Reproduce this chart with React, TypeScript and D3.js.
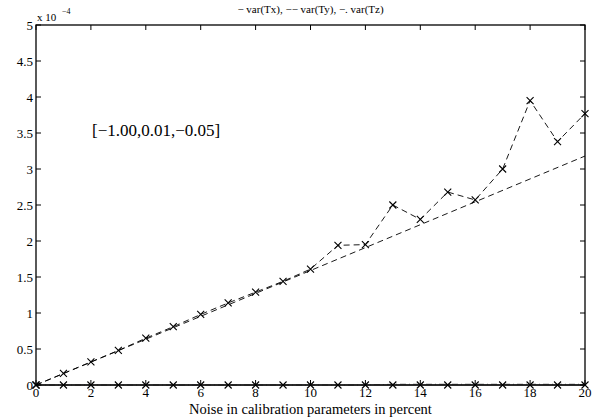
import React from "react";
import * as d3 from "d3";

const xs = [0, 1, 2, 3, 4, 5, 6, 7, 8, 9, 10, 11, 12, 13, 14, 15, 16, 17, 18, 19, 20];
const varTx = [0, 0, 0, 0, 0, 0, 0, 0, 0, 0, 0, 0, 0, 0, 0, 0, 0, 0, 0, 0, 0];
const varTy = [0, 0.16, 0.32, 0.48, 0.65, 0.81, 0.98, 1.14, 1.29, 1.44, 1.61, 1.94, 1.95, 2.5, 2.3, 2.68, 2.57, 3.0, 3.95, 3.38, 3.77].map(v => v * 1e-4);
const varTz = [0, 0, 0, 0, 0, 0, 0, 0, 0, 0, 0, 0, 0, 0.01, 0.01, 0.01, 0.01, 0.01, 0.01, 0.01, 0.01].map(v => v * 1e-4);
const fitX = [0, 20];
const fitY = [0, 3.18e-4];
const xTicks = [0, 2, 4, 6, 8, 10, 12, 14, 16, 18, 20];
const yTicks = [0, 0.5, 1, 1.5, 2, 2.5, 3, 3.5, 4, 4.5, 5];
const title = "\u2212 var(Tx), \u2212\u2212 var(Ty), \u2212. var(Tz)";
const xLabel = "Noise in calibration parameters in percent";
const annotation = "[\u22121.00,0.01,\u22120.05]";

const W = 596, H = 419;
const L = 36, R = 585, T = 25, B = 385;

export default function App() {
  const x = d3.scaleLinear().domain([0, 20]).range([L, R]);
  const y = d3.scaleLinear().domain([0, 5e-4]).range([B, T]);
  const line = d3.line<[number, number]>().x(d => x(d[0])).y(d => y(d[1]));
  const font = "'Liberation Serif', 'Times New Roman', serif";
  const marker = (cx: number, cy: number, k: string) => (
    <path key={k} d={`M${cx - 3.5},${cy - 3.5}L${cx + 3.5},${cy + 3.5}M${cx - 3.5},${cy + 3.5}L${cx + 3.5},${cy - 3.5}`} stroke="#000" strokeWidth={1.1} />
  );
  return (
    <svg width={W} height={H} style={{ position: "absolute", left: 0, top: 0, background: "#fff" }} fontFamily={font}>
      <rect x={0} y={0} width={W} height={H} fill="#fff" />
      <path d={line(xs.map((v, i) => [v, varTx[i]]) as any) || ""} fill="none" stroke="#000" strokeWidth={1} />
      <path d={line(xs.map((v, i) => [v, varTz[i]]) as any) || ""} fill="none" stroke="#555" strokeWidth={1} strokeDasharray="6,3,1,3" />
      <path d={line(fitX.map((v, i) => [v, fitY[i]]) as any) || ""} fill="none" stroke="#000" strokeWidth={0.9} strokeDasharray="6,4" />
      <path d={line(xs.map((v, i) => [v, varTy[i]]) as any) || ""} fill="none" stroke="#000" strokeWidth={0.9} strokeDasharray="6,4" />
      {xs.map((v, i) => marker(x(v), y(varTy[i]), "y" + i))}
      {xs.map((v, i) => marker(x(v), y(varTx[i]), "x" + i))}
      <rect x={L} y={T} width={R - L} height={B - T} fill="none" stroke="#000" strokeWidth={1.3} />
      {xTicks.map(t => (
        <g key={"xt" + t}>
          <line x1={x(t)} x2={x(t)} y1={B} y2={B - 5} stroke="#000" />
          <line x1={x(t)} x2={x(t)} y1={T} y2={T + 5} stroke="#000" />
          <text x={x(t)} y={B + 12} fontSize={13} textAnchor="middle">{t}</text>
        </g>
      ))}
      {yTicks.map(t => (
        <g key={"yt" + t}>
          <line x1={L} x2={L + 5} y1={y(t * 1e-4)} y2={y(t * 1e-4)} stroke="#000" />
          <line x1={R} x2={R - 5} y1={y(t * 1e-4)} y2={y(t * 1e-4)} stroke="#000" />
          <text x={L - 3} y={y(t * 1e-4) + 4.5} fontSize={13} textAnchor="end">{t}</text>
        </g>
      ))}
      <text x={37} y={21} fontSize={11}>x 10</text>
      <text x={62} y={14} fontSize={8}>{"\u22124"}</text>
      <text x={(L + R) / 2} y={13} fontSize={11} textAnchor="middle">{title}</text>
      <text x={92} y={136} fontSize={17}>{annotation}</text>
      <text x={(L + R) / 2} y={414} fontSize={14.5} textAnchor="middle">{xLabel}</text>
    </svg>
  );
}
